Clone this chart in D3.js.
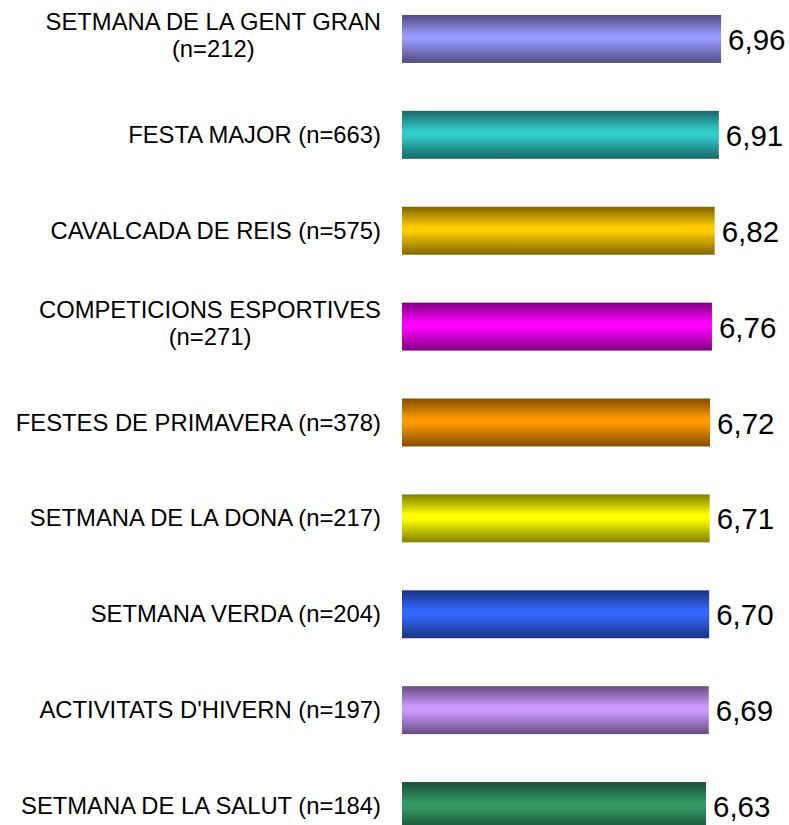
<!DOCTYPE html>
<html>
<head>
<meta charset="utf-8">
<script src="https://cdn.jsdelivr.net/npm/d3@7"></script>
<style>
  html, body { margin: 0; padding: 0; background: #fff; }
  svg { display: block; }
  text { font-family: "Liberation Sans", Arial, sans-serif; fill: #000; }
</style>
</head>
<body>
<div id="chart"></div>
<script>
const categories = [
  "SETMANA DE LA GENT GRAN\n(n=212)",
  "FESTA MAJOR (n=663)",
  "CAVALCADA DE REIS (n=575)",
  "COMPETICIONS ESPORTIVES\n(n=271)",
  "FESTES DE PRIMAVERA (n=378)",
  "SETMANA DE LA DONA (n=217)",
  "SETMANA VERDA (n=204)",
  "ACTIVITATS D'HIVERN (n=197)",
  "SETMANA DE LA SALUT (n=184)"
];
const values = [6.96, 6.91, 6.82, 6.76, 6.72, 6.71, 6.70, 6.69, 6.63];
const valueLabels = ["6,96", "6,91", "6,82", "6,76", "6,72", "6,71", "6,70", "6,69", "6,63"];
const barColors = ["#9999FF", "#33CCCC", "#FFCC00", "#FF00FF", "#FF9900", "#FFFF00", "#3366FF", "#CC99FF", "#339966"];

const W = 789, H = 825;
const svg = d3.select("#chart").append("svg").attr("width", W).attr("height", H);

const x = d3.scaleLinear().domain([0, 10]).range([402, 402 + 458.5]);
const y = d3.scaleBand().domain(d3.range(categories.length)).range([-9, 854])
  .paddingInner(0.5).paddingOuter(0.25);

const defs = svg.append("defs");
barColors.forEach((c, i) => {
  const dark = d3.interpolateRgb(c, "#000")(0.5);
  const g = defs.append("linearGradient").attr("id", "g" + i)
    .attr("x1", 0).attr("y1", 0).attr("x2", 0).attr("y2", 1);
  g.append("stop").attr("offset", "0%").attr("stop-color", dark);
  g.append("stop").attr("offset", "42%").attr("stop-color", c);
  g.append("stop").attr("offset", "52%").attr("stop-color", c);
  g.append("stop").attr("offset", "100%").attr("stop-color", dark);
});

svg.selectAll("rect.bar").data(values).join("rect")
  .attr("class", "bar")
  .attr("x", x(0))
  .attr("y", (d, i) => y(i))
  .attr("width", d => x(d) - x(0))
  .attr("height", y.bandwidth())
  .attr("fill", (d, i) => `url(#g${i})`);

svg.selectAll("text.val").data(values).join("text")
  .attr("class", "val")
  .attr("x", d => x(d) + 7)
  .attr("y", (d, i) => y(i) + y.bandwidth() / 2 + 11)
  .attr("font-size", 29.5)
  .text((d, i) => valueLabels[i]);

const labelRight = 381;
categories.forEach((cat, i) => {
  const lines = cat.split("\n");
  const cy = y(i) + y.bandwidth() / 2;
  const g = svg.append("g");
  const texts = lines.map((ln, j) => {
    const by = lines.length === 1 ? cy + 8 : (j === 0 ? cy - 9 : cy + 18);
    return g.append("text").attr("font-size", 23.8).attr("y", by).text(ln);
  });
  const maxW = d3.max(texts, t => t.node().getComputedTextLength());
  texts.forEach(t => t.attr("x", labelRight - maxW / 2).attr("text-anchor", "middle"));
});
</script>
</body>
</html>
